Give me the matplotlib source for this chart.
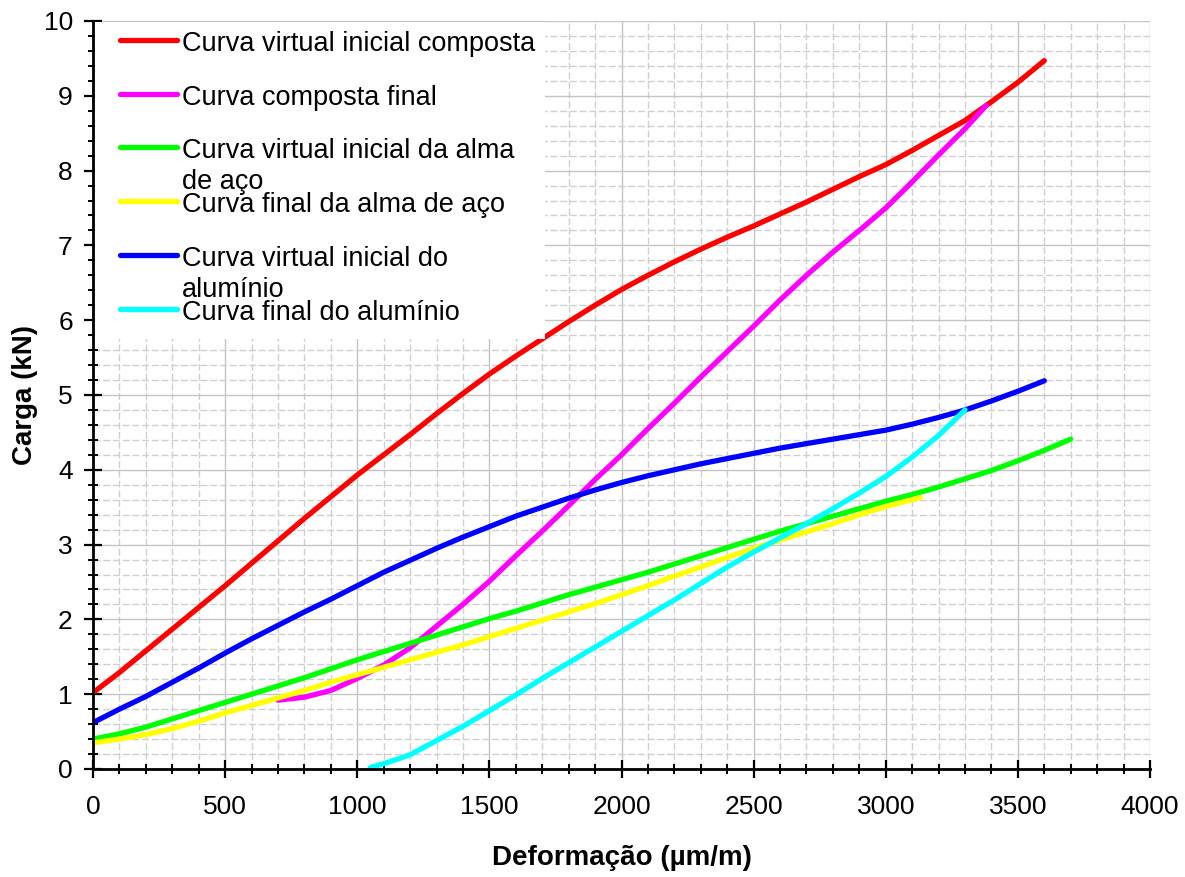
import matplotlib
matplotlib.use("Agg")
import matplotlib.pyplot as plt
from matplotlib.patches import Rectangle
from matplotlib.ticker import MultipleLocator
import numpy as np

plt.rcParams['font.family'] = ['Liberation Sans', 'DejaVu Sans']

# ---- data ----
red_x = [0, 100, 200, 300, 400, 500, 600, 700, 800, 900, 1000, 1100, 1200, 1300, 1400, 1500,
         1600, 1700, 1800, 1900, 2000, 2100, 2200, 2300, 2400, 2500, 2600, 2700, 2800, 2900,
         3000, 3100, 3200, 3300, 3400, 3500, 3600]
red_y = [1.02, 1.29, 1.58, 1.87, 2.16, 2.45, 2.75, 3.05, 3.35, 3.64, 3.93, 4.2, 4.47, 4.75, 5.02, 5.28,
         5.52, 5.75, 5.98, 6.2, 6.41, 6.6, 6.78, 6.95, 7.11, 7.26, 7.42, 7.58, 7.75, 7.92,
         8.08, 8.27, 8.47, 8.67, 8.92, 9.18, 9.47]

mag_x = [700, 800, 900, 1000, 1100, 1200, 1300, 1400, 1500, 1600, 1700, 1800, 1900, 2000, 2100,
         2200, 2300, 2400, 2500, 2600, 2700, 2800, 2900, 3000, 3100, 3200, 3300, 3380]
mag_y = [0.92, 0.96, 1.05, 1.21, 1.39, 1.62, 1.91, 2.2, 2.51, 2.85, 3.18, 3.52, 3.87, 4.2, 4.55,
         4.89, 5.24, 5.58, 5.92, 6.27, 6.6, 6.91, 7.2, 7.5, 7.85, 8.21, 8.56, 8.87]

grn_x = [0, 100, 200, 300, 400, 500, 600, 700, 800, 900, 1000, 1100, 1200, 1300, 1400, 1500,
         1600, 1700, 1800, 1900, 2000, 2100, 2200, 2300, 2400, 2500, 2600, 2700, 2800, 2900,
         3000, 3100, 3200, 3300, 3400, 3500, 3600, 3700]
grn_y = [0.4, 0.47, 0.56, 0.67, 0.78, 0.89, 1.0, 1.11, 1.22, 1.34, 1.46, 1.57, 1.68, 1.79, 1.9, 2.01,
         2.11, 2.22, 2.33, 2.43, 2.53, 2.63, 2.74, 2.85, 2.96, 3.07, 3.18, 3.28, 3.38, 3.48,
         3.58, 3.67, 3.77, 3.88, 3.99, 4.12, 4.26, 4.41]

yel_x = [0, 100, 200, 300, 400, 500, 600, 700, 800, 900, 1000, 1100, 1200, 1300, 1400, 1500,
         1600, 1700, 1800, 1900, 2000, 2100, 2200, 2300, 2400, 2500, 2600, 2700, 2800, 2900,
         3000, 3100, 3130]
yel_y = [0.35, 0.4, 0.46, 0.54, 0.64, 0.75, 0.85, 0.95, 1.05, 1.16, 1.26, 1.36, 1.46, 1.56, 1.66, 1.77,
         1.88, 1.99, 2.1, 2.21, 2.33, 2.45, 2.58, 2.7, 2.83, 2.95, 3.06, 3.17, 3.28, 3.4,
         3.51, 3.6, 3.63]

blu_x = [0, 100, 200, 300, 400, 500, 600, 700, 800, 900, 1000, 1100, 1200, 1300, 1400, 1500,
         1600, 1700, 1800, 1900, 2000, 2100, 2200, 2300, 2400, 2500, 2600, 2700, 2800, 2900,
         3000, 3100, 3200, 3300, 3400, 3500, 3600]
blu_y = [0.62, 0.8, 0.97, 1.16, 1.35, 1.55, 1.74, 1.92, 2.1, 2.27, 2.45, 2.63, 2.79, 2.95, 3.1, 3.24,
         3.38, 3.5, 3.62, 3.73, 3.83, 3.92, 4.0, 4.08, 4.15, 4.22, 4.29, 4.35, 4.41, 4.47,
         4.53, 4.61, 4.7, 4.8, 4.92, 5.05, 5.19]

cya_x = [1050, 1100, 1200, 1300, 1400, 1500, 1600, 1700, 1800, 1900, 2000, 2100, 2200, 2300,
         2400, 2500, 2600, 2700, 2800, 2900, 3000, 3100, 3200, 3300]
cya_y = [0.02, 0.07, 0.19, 0.38, 0.57, 0.78, 0.99, 1.21, 1.42, 1.63, 1.84, 2.05, 2.26, 2.48,
         2.7, 2.9, 3.09, 3.28, 3.48, 3.69, 3.91, 4.17, 4.46, 4.8]

labels = ["Curva virtual inicial composta",
          "Curva composta final",
          "Curva virtual inicial da alma\nde aço",
          "Curva final da alma de aço",
          "Curva virtual inicial do\nalumínio",
          "Curva final do alumínio"]
colors = ["#FF0000", "#FF00FF", "#00FF00", "#FFFF00", "#0000FF", "#00FFFF"]
xlabel = "Deformação (µm/m)"
ylabel = "Carga (kN)"

# ---- figure ----
W, H = 1185, 877
fig = plt.figure(figsize=(W / 100, H / 100), dpi=100)
L, R, T, B = 93, 1150, 21, 769
ax = fig.add_axes([L / W, 1 - B / H, (R - L) / W, (B - T) / H])

series = [(red_x, red_y), (mag_x, mag_y), (grn_x, grn_y), (yel_x, yel_y), (blu_x, blu_y), (cya_x, cya_y)]
for (xs, ys), c in zip(series, colors):
    ax.plot(xs, ys, color=c, lw=3.8, solid_capstyle='round', solid_joinstyle='round', zorder=3)

ax.set_xlim(0, 4000)
ax.set_ylim(0, 10)
ax.xaxis.set_major_locator(MultipleLocator(500))
ax.xaxis.set_minor_locator(MultipleLocator(100))
ax.yaxis.set_major_locator(MultipleLocator(1))
ax.yaxis.set_minor_locator(MultipleLocator(0.2))

ax.grid(which='major', color='#C4C4C4', lw=1.0, ls='-', zorder=0)
ax.grid(which='minor', color='#CFCFCF', lw=1.0, ls=(0, (5, 2)), zorder=0)
ax.set_axisbelow(True)

for s in ['top', 'right']:
    ax.spines[s].set_visible(False)
for s in ['left', 'bottom']:
    ax.spines[s].set_linewidth(2.0)
    ax.spines[s].set_zorder(5)

ax.tick_params(which='major', direction='inout', length=13, width=1.6, labelsize=19, color='black')
ax.tick_params(which='minor', direction='inout', length=6.5, width=1.4, color='black')
ax.tick_params(axis='x', which='major', pad=12)
ax.tick_params(axis='y', which='major', pad=8)

ax.set_xlabel(xlabel, fontsize=20, fontweight='bold')
ax.set_ylabel(ylabel, fontsize=20, fontweight='bold')
ax.xaxis.set_label_coords(0.5, -(845 - B) / (B - T))
ax.yaxis.set_label_coords(-(L - 38) / (R - L), 0.5)

# ---- legend (manual, Excel-like layout) ----
def fx(px):
    return (px - L) / (R - L)

def fy(py):
    return 1 - (py - T) / (B - T)

ax.add_patch(Rectangle((fx(95), fy(339)), fx(545) - fx(95), fy(22) - fy(339),
                       transform=ax.transAxes, facecolor='white', edgecolor='none', zorder=6))
handle_y = [40, 94, 147, 201, 255, 309]
for lab, c, hy in zip(labels, colors, handle_y):
    ax.plot([fx(120), fx(177)], [fy(hy), fy(hy)], transform=ax.transAxes, color=c,
            lw=3.8, solid_capstyle='round', zorder=7, clip_on=False)
    for i, line in enumerate(lab.split("\n")):
        ax.text(fx(182), fy(hy + 11 + 31 * i), line, transform=ax.transAxes, fontsize=19.5,
                ha='left', va='baseline', zorder=8)

fig.savefig("out.png", dpi=100)
